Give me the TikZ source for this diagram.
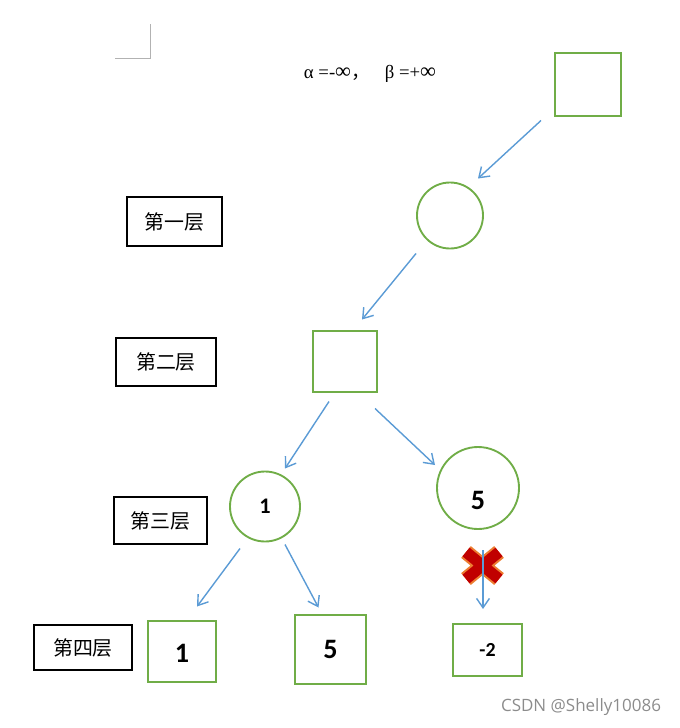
\documentclass[tikz,border=0pt]{standalone}
\usepackage{fontspec}
\setmainfont{Liberation Serif}
\newfontfamily\cjk{Noto Sans CJK SC}
\newfontfamily\numfont{Carlito}
\newfontfamily\wmfont{Open Sans}
\usetikzlibrary{arrows.meta}
\definecolor{leafgreen}{HTML}{70AD47}
\definecolor{arrowblue}{HTML}{5B9BD5}
\definecolor{crossred}{HTML}{C00000}
\definecolor{crossedge}{HTML}{ED7D31}

\begin{document}
\begin{tikzpicture}[x=0.03cm, y=-0.03cm,
	maxnode/.style={draw=leafgreen, line width=1.6pt, minimum width=#1},
	minnode/.style={draw=leafgreen, line width=1.6pt, circle, minimum size=#1},
	layerbox/.style={draw=black, line width=1.5pt, font=\cjk\fontsize{17}{19}\selectfont, inner sep=0pt},
	val/.style={font=\numfont\bfseries\fontsize{24}{28}\selectfont},
	edge/.style={draw=arrowblue, line width=1.2pt, -{Straight Barb[length=8pt, width=11pt]}}]
	\useasboundingbox (0,0) rectangle (680,728);
	% page corner mark
	\draw[gray!60, line width=0.8pt] (115,58) -- (150,58) -- (150,24);
	\node (init) at (370,74) {\fontsize{16}{18}\selectfont α =-{\fontsize{19}{18}\selectfont ∞}{\cjk ，}\hspace{0.8em}β =+{\fontsize{19}{18}\selectfont ∞}};
	% tree
	\node[maxnode=1.98cm, minimum height=1.89cm] (root) at (588,84.5) {};
	\node[minnode=1.98cm] (a) at (450,215.5) {};
	\node[maxnode=1.92cm, minimum height=1.83cm] (b) at (345,361.5) {};
	\node[minnode=2.1cm, val, font=\numfont\bfseries\fontsize{19}{22}\selectfont] (c1) at (265,506.5) {1};
	\node[minnode=2.46cm] (c2) at (478,488) {};
	\node[val] at (478,500) {5};
	\node[maxnode=2.04cm, minimum height=1.83cm, val, text depth=0pt] (d1) at (182,651.5) {\raisebox{-3pt}{1}};
	\node[maxnode=2.13cm, minimum height=2.07cm, val] (d2) at (330.5,649.5) {\raisebox{-2pt}{5}};
	\node[maxnode=2.07cm, minimum height=1.56cm, font=\numfont\bfseries\fontsize{17}{20}\selectfont] (d3) at (487.5,650) {-2};
	% layer labels
	\node[layerbox, minimum width=2.85cm, minimum height=1.47cm] (l1) at (174.5,221.5) {第一层};
	\node[layerbox, minimum width=3.0cm, minimum height=1.44cm] (l2) at (166,362) {第二层};
	\node[layerbox, minimum width=2.79cm, minimum height=1.41cm] (l3) at (160.5,520.5) {第三层};
	\node[layerbox, minimum width=2.94cm, minimum height=1.35cm] (l4) at (83,647.5) {第四层};
	% cut mark
	\draw[crossedge, line width=13pt] (466,552) -- (499,579) (466,579) -- (499,552);
	\draw[crossred, line width=9.5pt] (466,552) -- (499,579) (466,579) -- (499,552);
	% connectors
	\draw[edge] ([shift={(-47,36)}]root.center) -- ([shift={(28,-37)}]a.center);
	\draw[edge] ([shift={(-34,38)}]a.center) -- ([shift={(17,-42)}]b.center);
	\draw[edge] ([shift={(-16,40)}]b.center) -- ([shift={(20,-38)}]c1.center);
	\draw[edge] ([shift={(30,47)}]b.center) -- ([shift={(-43,-23)}]c2.center);
	\draw[edge] ([shift={(-25,42)}]c1.center) -- ([shift={(15,-45)}]d1.center);
	\draw[edge] ([shift={(20,38)}]c1.center) -- ([shift={(-12,-42)}]d2.center);
	\draw[edge] ([shift={(5,62)}]c2.center) -- ([shift={(-4.5,-41)}]d3.center);
	\node[text=gray!90, font=\wmfont\fontsize{14.5}{17}\selectfont] (mark) at (581,707) {CSDN @Shelly10086};
\end{tikzpicture}
\end{document}
